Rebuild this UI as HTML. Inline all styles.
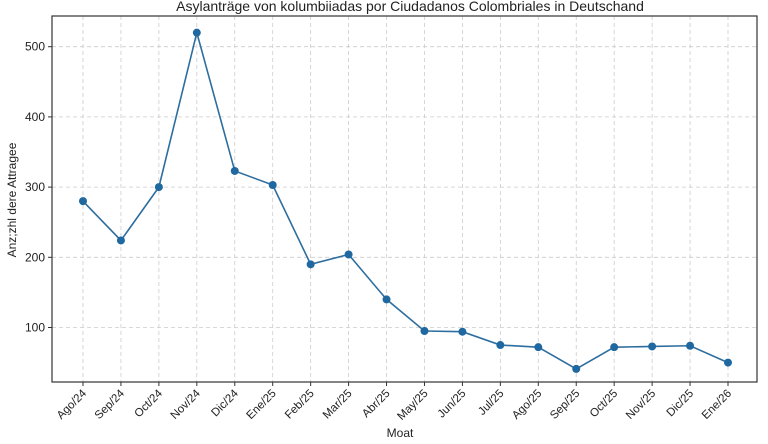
<!DOCTYPE html>
<html><head><meta charset="utf-8"><style>
body{margin:0;background:#fff;}
svg text{font-family:"Liberation Sans","DejaVu Sans",sans-serif;fill:#222;}
</style></head><body>
<svg id="chart" width="768" height="439">
<text x="410" y="11" text-anchor="middle" font-size="14">Asylanträge von kolumbiiadas por Ciudadanos Colombriales in Deutschand</text>
<g id="grid"></g>
<g id="axes"></g>
<g id="series"></g>
<text x="400" y="437" text-anchor="middle" font-size="12">Moat</text>
<text transform="translate(16,200) rotate(-90)" text-anchor="middle" font-size="12">Anz;zhl dere Attragee</text>
</svg>
<script>
const categories=["Ago/24","Sep/24","Oct/24","Nov/24","Dic/24","Ene/25","Feb/25","Mar/25","Abr/25","May/25","Jun/25","Jul/25","Ago/25","Sep/25","Oct/25","Nov/25","Dic/25","Ene/26"];
const values=[280,224,300,520,323,303,190,204,140,95,94,75,72,41,72,73,74,50];
const yTicks=[100,200,300,400,500];
const L=52,R=757,T=16,B=382;
const ns="http://www.w3.org/2000/svg";
function x(i){return 83+i*(728-83)/(categories.length-1);}
function y(v){return 327.5-(v-100)*(327.5-46.7)/400;}
function mk(t,a,p){const e=document.createElementNS(ns,t);for(const k in a)e.setAttribute(k,a[k]);p.appendChild(e);return e;}
const grid=document.getElementById('grid'),axes=document.getElementById('axes'),ser=document.getElementById('series');
yTicks.forEach(v=>{
 const g=mk('line',{x1:L,x2:R,y1:y(v),y2:y(v),stroke:'#ccc','stroke-dasharray':'4,3','stroke-width':0.8},grid);
 
 
 mk('line',{x1:L-4,x2:L,y1:y(v),y2:y(v),stroke:'#333'},axes);
 const t=mk('text',{x:L-7,y:y(v)+4,'text-anchor':'end','font-size':12},axes);
 t.textContent=v;
 
 
});
categories.forEach((c,i)=>{
 const g=mk('line',{x1:x(i),x2:x(i),y1:T,y2:B,stroke:'#ccc','stroke-dasharray':'4,3','stroke-width':0.8},grid);
 
 
 mk('line',{x1:x(i),x2:x(i),y1:B,y2:B+4,stroke:'#333'},axes);
 const t=mk('text',{x:x(i)+4,y:B+12,'text-anchor':'end','font-size':11.5,transform:`rotate(-45 ${x(i)+4} ${B+12})`},axes);
 t.textContent=c;
 
 
});
const frame=mk('rect',{x:L,y:T,width:R-L,height:B-T,fill:'none',stroke:'#333','stroke-width':1.2},axes);


const line=mk('polyline',{points:values.map((v,i)=>x(i)+','+y(v)).join(' '),fill:'none',stroke:'#2e6e9e','stroke-width':1.6},ser);


values.forEach((v,i)=>{
 const c=mk('circle',{cx:x(i),cy:y(v),r:4,fill:'#1f68a0'},ser);
 
 
});
</script>
</body></html>
